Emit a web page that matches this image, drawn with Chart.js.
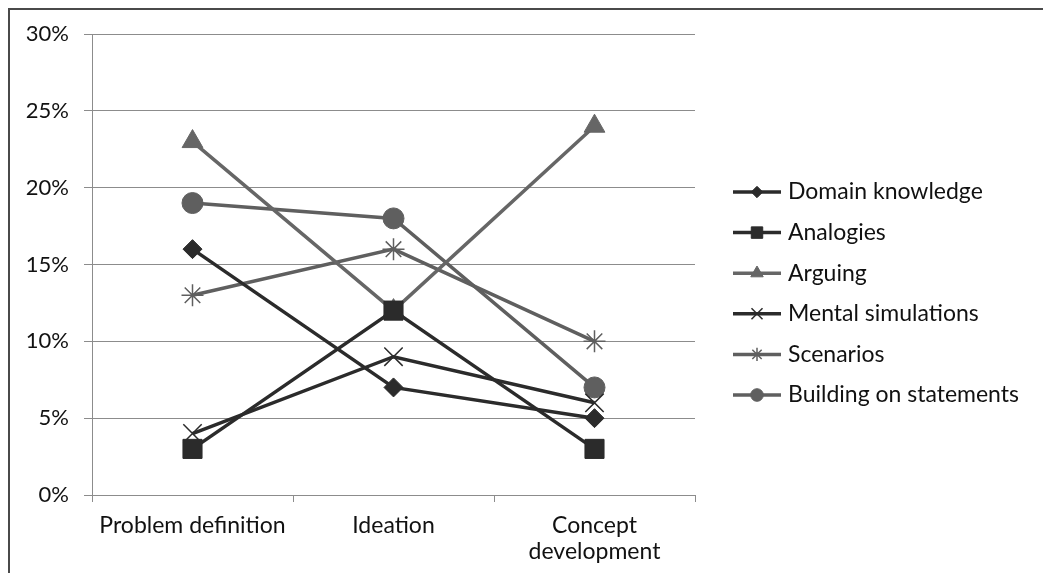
<!DOCTYPE html>
<html>
<head>
<meta charset="utf-8">
<script src="https://cdn.jsdelivr.net/npm/chart.js@4/dist/chart.umd.min.js"></script>
<style>
    body { margin: 0; background: #fff; overflow: hidden; }
    #frame { position: absolute; left: 8px; top: 8px; width: 1100px; height: 600px;
             border-left: 2px solid #4a4a4a; border-top: 2px solid #4a4a4a; }
    #chart { position: absolute; left: 0; top: 0; }
</style>
</head>
<body>
<div id="frame"></div>
<canvas id="chart" width="1043" height="573"></canvas>
<script>
const phases = [["Problem definition"], ["Ideation"], ["Concept", "development"]];
const yTicks = [0, 5, 10, 15, 20, 25, 30];

const domainKnowledge = [16, 7, 5];
const analogies = [3, 12, 3];
const arguing = [23, 12, 24];
const mentalSimulations = [4, 9, 6];
const scenarios = [13, 16, 10];
const buildingOnStatements = [19, 18, 7];

const DARK = "#2b2b2b";
const GREY = "#5f5f5f";
const FONT = "Lato";

function series(label, data, color, style, radius, thin) {
    return {
        label: label,
        data: data,
        borderColor: color,
        backgroundColor: color,
        borderWidth: 3.5,
        pointStyle: style,
        pointRadius: radius,
        pointHoverRadius: radius,
        pointBackgroundColor: color,
        pointBorderColor: color,
        pointBorderWidth: thin ? 1.5 : 1,
        tension: 0
    };
}

// legend drawn by hand: line with marker in the middle, like the original
const sideLegend = {
    id: 'sideLegend',
    afterDraw(chart) {
        let ctx = chart.ctx;
        let x0 = chart.chartArea.right + 38;
        chart.data.datasets.forEach(function (ds, i) {
            let y = 192 + i * 40.6;
            ctx.save();
            ctx.strokeStyle = ds.borderColor;
            ctx.lineWidth = 3.5;
            ctx.beginPath();
            ctx.moveTo(x0, y);
            ctx.lineTo(x0 + 48, y);
            ctx.stroke();
            ctx.fillStyle = ds.pointBackgroundColor;
            ctx.strokeStyle = ds.pointBorderColor;
            ctx.lineWidth = ds.pointBorderWidth;
            Chart.helpers.drawPoint(ctx, {
                pointStyle: ds.pointStyle,
                radius: ds.pointRadius * 0.6,
                borderWidth: ds.pointBorderWidth,
                rotation: 0
            }, x0 + 24, y);
            ctx.fillStyle = "#111";
            ctx.font = "23px " + FONT;
            ctx.textBaseline = "middle";
            ctx.textAlign = "left";
            ctx.fillText(ds.label, x0 + 55, y);
            ctx.restore();
        });
    }
};

new Chart(document.getElementById("chart"), {
    type: 'line',
    data: {
        labels: phases,
        datasets: [
            series("Domain knowledge", domainKnowledge, DARK, 'rectRot', 9.5),
            series("Analogies", analogies, DARK, 'rect', 13.5),
            series("Arguing", arguing, "#666666", 'triangle', 12),
            series("Mental simulations", mentalSimulations, DARK, 'crossRot', 13, true),
            series("Scenarios", scenarios, GREY, 'star', 11, true),
            series("Building on statements", buildingOnStatements, GREY, 'circle', 10.5)
        ]
    },
    options: {
        responsive: false,
        animation: false,
        layout: {
            padding: { left: 0, top: 34, right: 348, bottom: 0 }
        },
        plugins: {
            legend: { display: false },
            tooltip: { enabled: false }
        },
        scales: {
            x: {
                offset: true,
                grid: {
                    offset: true,
                    drawOnChartArea: false,
                    color: "#8c8c8c",
                    tickLength: 7
                },
                border: { color: "#8c8c8c" },
                ticks: {
                    color: "#111",
                    font: { family: FONT, size: 23, lineHeight: 1.13 },
                    padding: 11,
                    maxRotation: 0
                },
                afterFit: function (scale) { scale.height = 78; }
            },
            y: {
                min: 0,
                max: 30,
                afterBuildTicks: function (scale) {
                    scale.ticks = yTicks.map(v => ({ value: v }));
                },
                grid: {
                    color: "#8c8c8c",
                    tickLength: 8
                },
                border: { color: "#8c8c8c" },
                ticks: {
                    color: "#111",
                    font: { family: FONT, size: 22 },
                    padding: 15,
                    callback: function (v) { return v + "%"; }
                },
                afterFit: function (scale) { scale.width = 92; }
            }
        }
    },
    plugins: [sideLegend]
});
</script>
</body>
</html>
